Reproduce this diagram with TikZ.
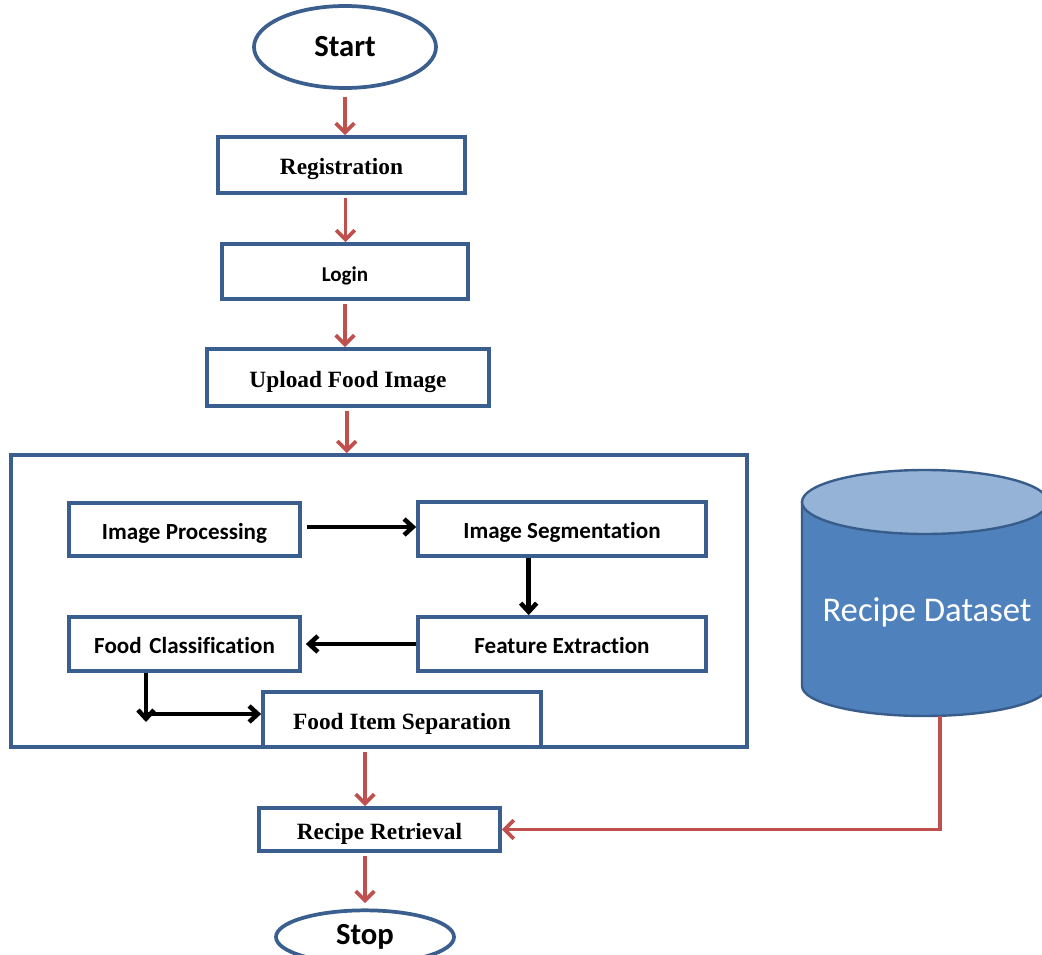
\documentclass[tikz,border=0pt]{standalone}
\usepackage{fontspec}
\setmainfont{Liberation Serif}
\newfontfamily\calfont[Ligatures=NoCommon]{Carlito}
\usetikzlibrary{arrows.meta,shapes.geometric}
\definecolor{bbord}{HTML}{3A5F8F}
\definecolor{rarrow}{HTML}{C0504D}
\definecolor{dbfill}{HTML}{4F81BD}
\definecolor{dbtop}{HTML}{95B3D7}
\definecolor{dbline}{HTML}{385D8A}
\begin{document}
\begin{tikzpicture}[x=0.75pt,y=-0.75pt,
  box/.style={draw=bbord, line width=2.8pt, fill=white, inner sep=0pt},
  tbox/.style={box, text height=14.5pt, text depth=0pt},
  oval/.style={ellipse, draw=bbord, line width=2.8pt, fill=white, inner sep=0pt},
  tm/.style={font=\fontsize{17.5}{20}\selectfont\bfseries},
  cb/.style={font=\calfont\fontsize{17.3}{20}\selectfont\bfseries},
  redarr/.style={draw=rarrow, line width=2.8pt, -{Straight Barb[length=7pt,width=14pt]}},
  blkarr/.style={draw=black, line width=3.4pt, -{Straight Barb[length=6.5pt,width=12pt]}}]
\fill[white] (0,0) rectangle (1042,955);
\useasboundingbox (0,0) rectangle (1042,955);

% main flow
\node[oval, minimum width=136.5pt, minimum height=61.5pt,
      font=\calfont\fontsize{23}{26}\selectfont\bfseries] (start) at (345,47) {Start};
\node[tbox, tm, minimum width=185.25pt, minimum height=42pt] (reg) at (341.5,165) {Registration};
\node[tbox, minimum width=184.5pt, minimum height=41.25pt,
      font=\calfont\fontsize{15.8}{18}\selectfont\bfseries] (login) at (345,271.5) {Login};
\node[tbox, tm, minimum width=211.5pt, minimum height=42.75pt] (upload) at (348,377.5) {Upload Food Image};

% big container
\node[box, minimum width=552pt, minimum height=219pt] (big) at (379,601) {};

\node[tbox, cb, minimum width=173.25pt, minimum height=39.75pt] (ip) at (184.5,529.5) {Image Processing};
\node[tbox, cb, minimum width=216pt, minimum height=40.5pt] (is) at (562,529) {Image Segmentation};
\node[tbox, cb, minimum width=216pt, minimum height=40.5pt] (fe) at (562,644) {Feature Extraction};
\node[tbox, cb, minimum width=173.25pt, minimum height=40.5pt] (fc) at (184.5,644) {Food\,\,Classification};
\node[tbox, tm, minimum width=208.5pt, minimum height=41.25pt] (fis) at (402,719.5) {Food Item Separation};

\node[tbox, tm, minimum width=180.75pt, minimum height=32.25pt] (rr) at (379.5,829.5) {Recipe Retrieval};
\node[oval, minimum width=133.5pt, minimum height=40pt,
      font=\calfont\fontsize{23}{26}\selectfont\bfseries] (stop) at (365,937) {Stop};

% database cylinder
\filldraw[fill=dbfill, draw=dbline, line width=1.8pt]
  (802,502) -- (802,686) arc (180:0:123 and 30) -- (1048,502) -- cycle;
\filldraw[fill=dbtop, draw=dbline, line width=1.8pt] (925,502) ellipse (123 and 32);
\node[text=white, font=\calfont\fontsize{26}{30}\selectfont] (db) at (927,612) {Recipe Dataset};
\coordinate (dbbot) at (940,716);

% red arrows
\draw[redarr, shorten <=5pt] (start.south) -- (start.south |- reg.north);
\draw[redarr, shorten <=2pt] ([xshift=3pt]reg.south) -- ([xshift=3pt]reg.south |- login.north);
\draw[redarr, shorten <=2pt] (login.south) -- (login.south |- upload.north);
\draw[redarr, shorten <=2pt] ([xshift=-1pt]upload.south) -- ([xshift=-1pt]upload.south |- big.north);
\draw[redarr, shorten <=2pt] (big.south -| stop.north) -- (rr.north -| stop.north);
\draw[redarr, shorten <=2pt, shorten >=4pt] (rr.south -| stop.north) -- (stop.north);
\draw[redarr] (dbbot) |- (rr.east);

% black arrows
\draw[blkarr, shorten <=4pt] (ip.east |- 0,527) -- (is.west |- 0,527);
\draw[blkarr] ([xshift=-25pt]is.south) -- ([xshift=-25pt]fe.north);
\draw[blkarr, shorten >=3pt] (fe.west) -- (fc.east);
\coordinate (c1) at (146,714);
\draw[blkarr] (fc.south -| c1) -- ([yshift=-6pt]c1);
\draw[blkarr] (c1) -- (c1 -| fis.west);
\end{tikzpicture}
\end{document}
